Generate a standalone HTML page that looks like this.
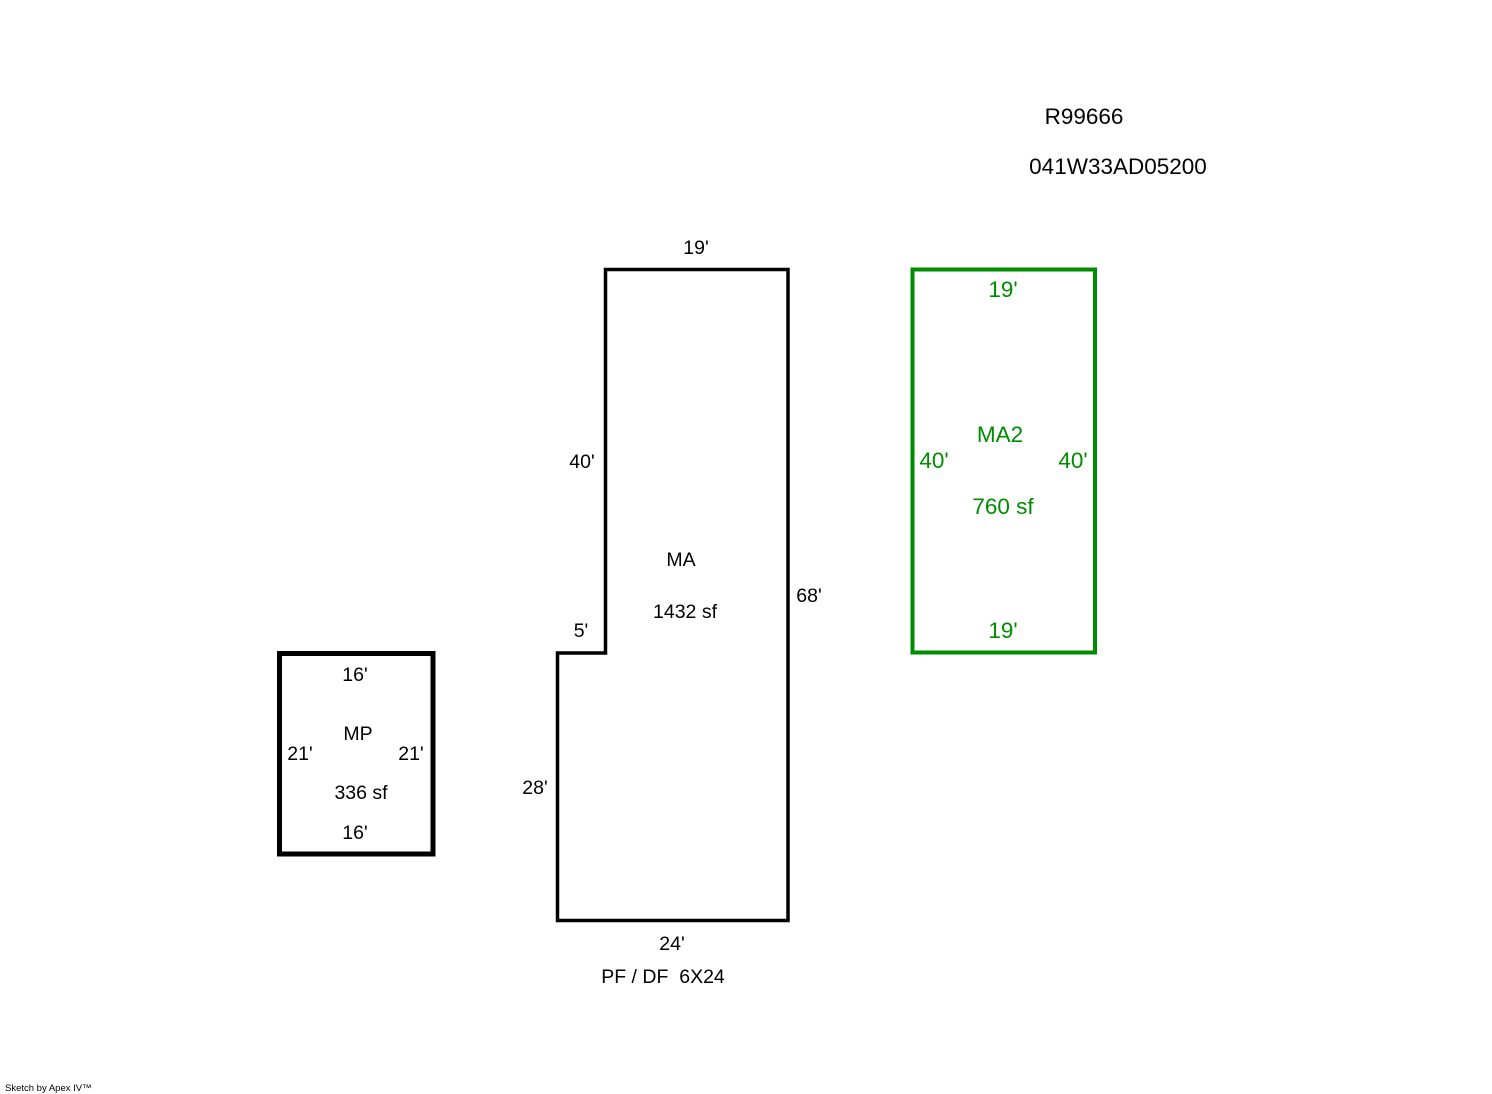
<!DOCTYPE html>
<html><head><style>html,body{margin:0;padding:0;background:#fff}svg{display:block}</style></head>
<body>
<svg width="1492" height="1094" xmlns="http://www.w3.org/2000/svg" font-family="Liberation Sans, Arial, sans-serif">
<rect width="1492" height="1094" fill="#fff"/>
<rect x="279.5" y="653.5" width="153.5" height="200.5" fill="none" stroke="#000" stroke-width="5"/>
<polygon points="605.5,269.5 788,269.5 788,920.5 557.5,920.5 557.5,653 605.5,653" fill="none" stroke="#000" stroke-width="3.5"/>
<rect x="912.5" y="269.5" width="182.5" height="383" fill="none" stroke="#008c00" stroke-width="4"/>
<g font-size="19.5" fill="#000" text-anchor="middle">
<text x="1084" y="124" font-size="22.5">R99666</text>
<text x="1118" y="174" font-size="22.5">041W33AD05200</text>
<text x="696" y="254">19'</text>
<text x="582" y="468">40'</text>
<text x="681" y="566">MA</text>
<text x="685" y="618">1432 sf</text>
<text x="809" y="602">68'</text>
<text x="581" y="637">5'</text>
<text x="535" y="794">28'</text>
<text x="672" y="950">24'</text>
<text x="663" y="983">PF / DF&#160;&#160;6X24</text>
<text x="355" y="681">16'</text>
<text x="358" y="740">MP</text>
<text x="300" y="760">21'</text>
<text x="411" y="760">21'</text>
<text x="361" y="799">336 sf</text>
<text x="355" y="839">16'</text>
</g>
<g font-size="22.5" fill="#008c00" text-anchor="middle">
<text x="1003" y="297">19'</text>
<text x="1000" y="442">MA2</text>
<text x="934" y="468">40'</text>
<text x="1073" y="468">40'</text>
<text x="1003" y="514">760 sf</text>
<text x="1003" y="638">19'</text>
</g>
<text x="5" y="1091" font-size="9.5" fill="#000">Sketch by Apex IV™</text>
</svg>
</body></html>
